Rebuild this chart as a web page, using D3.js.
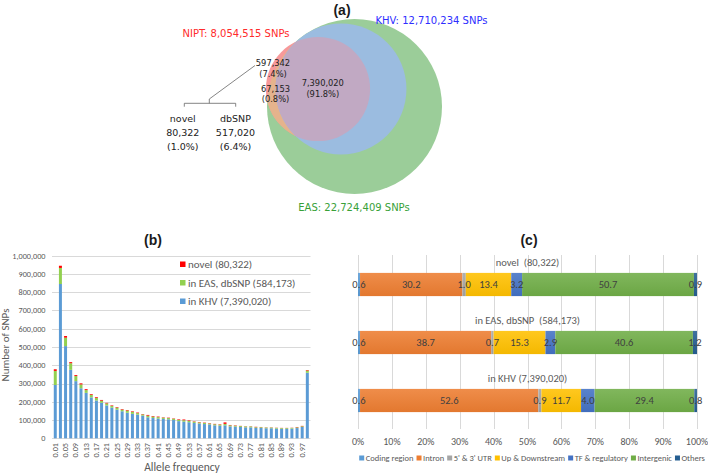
<!DOCTYPE html>
<html><head><meta charset="utf-8">
<script src="https://cdn.jsdelivr.net/npm/d3@7"></script>
<style>body{margin:0;background:#fff}svg{display:block}</style>
</head><body><svg id="chart" width="708" height="473"></svg>
<script>
// ---------- Panel (a) data ----------
const vennSets = ["NIPT", "KHV", "EAS"];
const vennSizes = [8054515, 12710234, 22724409];
const vennSetLabels = ["NIPT: 8,054,515 SNPs", "KHV: 12,710,234 SNPs", "EAS: 22,724,409 SNPs"];
const vennRegionLabels = [["597,342", "(7.4%)"], ["67,153", "(0.8%)"], ["7,390,020", "(91.8%)"]];
const splitNames = ["novel", "dbSNP"];
const splitValues = ["80,322", "517,020"];
const splitPct = ["(1.0%)", "(6.4%)"];

// ---------- Panel (b) data ----------
const afLabels = ["0.01","0.03","0.05","0.07","0.09","0.11","0.13","0.15","0.17","0.19",
  "0.21","0.23","0.25","0.27","0.29","0.31","0.33","0.35","0.37","0.39",
  "0.41","0.43","0.45","0.47","0.49","0.51","0.53","0.55","0.57","0.59",
  "0.61","0.63","0.65","0.67","0.69","0.71","0.73","0.75","0.77","0.79",
  "0.81","0.83","0.85","0.87","0.89","0.91","0.93","0.95","0.97","0.99"];
const inKHV = [292000,845000,505000,375000,313000,274000,249000,224000,207000,195000,
  180000,168000,157000,148000,140000,134000,130000,124000,115000,111000,
  108000,106000,104000,100000,94000,91000,88000,84000,81000,78000,
  76000,71000,69000,71000,65000,64000,62000,60000,60000,57000,
  57000,55000,55000,53000,52000,52000,53000,56000,62000,359000];
const inEASdbSNP = [77000,88000,46000,36000,28000,21000,15000,14000,14000,11000,
  11000,9000,11000,9000,12000,11000,8000,7000,9000,8000,
  8000,7000,7000,7000,7000,8000,7000,7000,6000,6000,
  5000,6000,6000,8000,6000,5000,5000,5000,5000,4000,
  4000,4000,4000,4000,4000,4000,4000,4000,4000,12000];
const novelAF = [9000,12000,9000,6000,5000,6000,5000,4000,4000,4000,
  3000,3000,3000,3000,3000,3000,3000,2000,4000,3000,
  3000,2000,2000,2000,3000,4000,3000,2000,2000,2000,
  2000,2000,2000,8000,2000,2000,1000,1000,1000,2000,
  1000,1000,1000,1000,1000,1000,1000,2000,2000,3000];
const yTicksB = [0,100000,200000,300000,400000,500000,600000,700000,800000,900000,1000000];
const seriesB = ["inKHV", "inEASdbSNP", "novel"];
const legendB = ["novel (80,322)", "in EAS, dbSNP (584,173)", "in KHV (7,390,020)"];

// ---------- Panel (c) data ----------
const groupsC = ["novel  (80,322)", "in EAS, dbSNP  (584,173)", "in KHV (7,390,020)"];
const annoCats = ["Coding region", "Intron", "5' & 3' UTR", "Up & Downstream", "TF & regulatory", "Intergenic", "Others"];
const annoNovel = [0.6, 30.2, 1.0, 13.4, 3.2, 50.7, 0.9];
const annoEAS = [0.6, 38.7, 0.7, 15.3, 2.9, 40.6, 1.2];
const annoKHV = [0.6, 52.6, 0.9, 11.7, 4.0, 29.4, 0.8];
const xTicksC = [0,10,20,30,40,50,60,70,80,90,100];

// ---------- Styles ----------
const excelFont = "Carlito, Calibri, Lato, 'Open Sans', sans-serif";
const mplFont = "'DejaVu Sans', sans-serif";
const svg = d3.select("#chart");
const defs = svg.append("defs");

// ================= Panel (a): Venn =================
(function(){
  const g = svg.append("g");
  const r = d3.scaleSqrt().domain([0, 22724409]).range([0, 87.5]);
  const centers = {NIPT: [318, 89], KHV: [341, 89], EAS: [354.5, 106.5]};
  const circ = vennSets.map((s, i) => ({name: s, cx: centers[s][0], cy: centers[s][1], r: r(vennSizes[i])}));
  const C = Object.fromEntries(circ.map(c => [c.name, c]));
  ["KHV", "EAS"].forEach(n => {
    defs.append("clipPath").attr("id", "clip" + n)
      .append("circle").attr("cx", C[n].cx).attr("cy", C[n].cy).attr("r", C[n].r);
  });
  const draw = (c, fill, clip) => {
    const e = g.append("circle").attr("cx", c.cx).attr("cy", c.cy).attr("r", c.r).attr("fill", fill);
    if (clip) e.attr("clip-path", `url(#clip${clip})`);
  };
  draw(C.EAS, "#9bcd99");
  draw(C.NIPT, "#f7999a");
  draw(C.NIPT, "#e5b38c", "EAS");
  draw(C.KHV, "#9bbce0", "EAS");
  draw(C.NIPT, "#c1a9c3", "KHV");

  g.append("text").attr("x", 342).attr("y", 15).attr("text-anchor", "middle")
    .attr("font-family", "'Liberation Sans', Arial, sans-serif").attr("font-weight", "bold")
    .attr("font-size", 14).attr("fill", "#1a1a1a").text("(a)");

  const setPos = [[236, 37, "#ff2b2b"], [431.5, 24, "#2e2eff"], [354, 211, "#38a138"]];
  vennSetLabels.forEach((t, i) => {
    g.append("text").attr("x", setPos[i][0]).attr("y", setPos[i][1]).attr("text-anchor", "middle")
      .attr("font-family", mplFont).attr("font-size", 10).attr("fill", setPos[i][2]).text(t);
  });
  const regPos = [[273, 66], [275.5, 91.5], [322.8, 86]];
  vennRegionLabels.forEach((pair, i) => {
    pair.forEach((t, j) => {
      g.append("text").attr("x", regPos[i][0]).attr("y", regPos[i][1] + j * 10.5).attr("text-anchor", "middle")
        .attr("font-family", mplFont).attr("font-size", 8.3).attr("fill", "#222").text(t);
    });
  });
  g.append("path").attr("d", "M255,65.5 L209.3,99 L209.3,103.3 M184.3,106.7 L184.3,103.3 L235.7,103.3 L235.7,106.7")
    .attr("fill", "none").attr("stroke", "#666").attr("stroke-width", 0.8);
  const splitX = [182.8, 235.5];
  splitNames.forEach((n, i) => {
    [n, splitValues[i], splitPct[i]].forEach((t, j) => {
      g.append("text").attr("x", splitX[i]).attr("y", 121.7 + j * 14.3).attr("text-anchor", "middle")
        .attr("font-family", mplFont).attr("font-size", 9.5).attr("fill", "#222").text(t);
    });
  });
})();

// ================= Panel (b): stacked bars =================
(function(){
  const g = svg.append("g");
  const x = d3.scaleBand().domain(afLabels).range([52.7, 309.9]).paddingInner(0.42).paddingOuter(0.21);
  const y = d3.scaleLinear().domain([0, 1000000]).range([438.3, 255.7]);
  const colors = {inKHV: "#5b9bd5", inEASdbSNP: "#92d050", novel: "#ff0000"};
  const rows = afLabels.map((a, i) => ({af: a, inKHV: inKHV[i], inEASdbSNP: inEASdbSNP[i], novel: novelAF[i]}));
  const stacked = d3.stack().keys(seriesB)(rows);

  g.append("g").selectAll("line").data(yTicksB).join("line")
    .attr("x1", 52).attr("x2", 310.5).attr("y1", d => Math.round(y(d)) + 0.5).attr("y2", d => Math.round(y(d)) + 0.5)
    .attr("stroke", "#d9d9d9").attr("stroke-width", 1);
  g.append("g").selectAll("text").data(yTicksB).join("text")
    .attr("x", 45.5).attr("y", d => y(d)).attr("dy", "0.35em").attr("text-anchor", "end")
    .attr("font-family", excelFont).attr("font-size", 8.2).attr("fill", "#595959")
    .text(d => d3.format(",")(d));

  stacked.forEach(s => {
    g.append("g").selectAll("rect").data(s).join("rect")
      .attr("x", d => x(d.data.af)).attr("width", x.bandwidth())
      .attr("y", d => y(d[1])).attr("height", d => y(d[0]) - y(d[1]))
      .attr("fill", colors[s.key]);
  });

  g.append("g").selectAll("text").data(afLabels.filter((d, i) => i % 2 === 0)).join("text")
    .attr("transform", d => `translate(${x(d) + x.bandwidth() / 2 + 2.5},443) rotate(-90)`)
    .attr("text-anchor", "end").attr("font-family", excelFont).attr("font-size", 8.2).attr("fill", "#595959")
    .text(d => d);

  g.append("text").attr("x", 182).attr("y", 471).attr("text-anchor", "middle")
    .attr("font-family", excelFont).attr("font-size", 11.5).attr("fill", "#595959").text("Allele frequency");
  g.append("text").attr("transform", "translate(9,345) rotate(-90)").attr("text-anchor", "middle")
    .attr("font-family", excelFont).attr("font-size", 11).attr("fill", "#595959").text("Number of SNPs");
  g.append("text").attr("x", 153).attr("y", 245).attr("text-anchor", "middle")
    .attr("font-family", "'Liberation Sans', Arial, sans-serif").attr("font-weight", "bold")
    .attr("font-size", 14).attr("fill", "#1a1a1a").text("(b)");

  const legColors = [colors.novel, colors.inEASdbSNP, colors.inKHV];
  const legY = [264.5, 283, 301.5];
  legendB.forEach((t, i) => {
    g.append("rect").attr("x", 180).attr("y", legY[i] - 3).attr("width", 5.5).attr("height", 5.5).attr("fill", legColors[i]);
    g.append("text").attr("x", 188).attr("y", legY[i]).attr("dy", "0.35em")
      .attr("font-family", excelFont).attr("font-size", 11).attr("fill", "#595959").text(t);
  });
})();

// ================= Panel (c): 100% stacked horizontal bars =================
(function(){
  const g = svg.append("g");
  const x = d3.scaleLinear().domain([0, 100]).range([358, 697]);
  const y = d3.scaleBand().domain(groupsC).range([255.5, 429.5]).paddingInner(0.6).paddingOuter(0.3);
  const catColors = ["#5b9bd5", "#ed7d31", "#a5a5a5", "#ffc000", "#4472c4", "#70ad47", "#255e91"];
  const data = [annoNovel, annoEAS, annoKHV];

  catColors.forEach((c, i) => {
    const lg = defs.append("linearGradient").attr("id", "grad" + i).attr("x1", 0).attr("x2", 0).attr("y1", 0).attr("y2", 1);
    lg.append("stop").attr("offset", "0%").attr("stop-color", d3.interpolateRgb(c, "#fff")(0.12));
    lg.append("stop").attr("offset", "100%").attr("stop-color", d3.color(c).darker(0.12));
  });

  g.append("g").selectAll("line").data(xTicksC).join("line")
    .attr("x1", d => Math.round(x(d)) + 0.5).attr("x2", d => Math.round(x(d)) + 0.5)
    .attr("y1", 255).attr("y2", 429).attr("stroke", "#d9d9d9");
  g.append("g").selectAll("text").data(xTicksC).join("text")
    .attr("x", d => x(d)).attr("y", 444.5).attr("text-anchor", "middle")
    .attr("font-family", excelFont).attr("font-size", 10).attr("fill", "#595959").text(d => d + "%");

  groupsC.forEach((grp, gi) => {
    const vals = data[gi];
    const stack = d3.stack().keys(annoCats.map((c, i) => i))([vals])
      .map(s => ({k: s.key, x0: s[0][0], x1: s[0][1], v: vals[s.key]}));
    const row = g.append("g");
    row.selectAll("rect").data(stack).join("rect")
      .attr("x", d => x(d.x0)).attr("width", d => x(d.x1) - x(d.x0))
      .attr("y", y(grp)).attr("height", y.bandwidth())
      .attr("fill", d => `url(#grad${d.k})`);
    row.selectAll("text").data(stack).join("text")
      .attr("x", d => x((d.x0 + d.x1) / 2)).attr("y", y(grp) + y.bandwidth() / 2).attr("dy", "0.35em")
      .attr("text-anchor", "middle").attr("font-family", excelFont).attr("font-size", 10.5)
      .attr("fill", "#404040").text(d => d.v.toFixed(1));
    g.append("text").attr("x", 527.5).attr("y", y(grp) - 6.5).attr("text-anchor", "middle")
      .attr("font-family", excelFont).attr("font-size", 10.5).attr("fill", "#595959")
      .attr("xml:space", "preserve").style("white-space", "pre").text(grp);
  });

  g.append("text").attr("x", 529).attr("y", 245).attr("text-anchor", "middle")
    .attr("font-family", "'Liberation Sans', Arial, sans-serif").attr("font-weight", "bold")
    .attr("font-size", 14).attr("fill", "#1a1a1a").text("(c)");

  const lg = g.append("g");
  let cx = 0;
  annoCats.forEach((c, i) => {
    const it = lg.append("g");
    it.append("rect").attr("x", 0).attr("y", -2.5).attr("width", 5).attr("height", 5).attr("fill", catColors[i]);
    const t = it.append("text").attr("x", 6.5).attr("dy", "0.35em").attr("font-family", excelFont)
      .attr("font-size", 8.5).attr("fill", "#595959").text(c);
    const w = 6.5 + t.node().getComputedTextLength();
    it.attr("transform", `translate(${cx},458)`);
    cx += w + 3;
  });
  const total = cx - 3;
  lg.attr("transform", `translate(${532 - total / 2},0)`);
})();
</script>
</body></html>
